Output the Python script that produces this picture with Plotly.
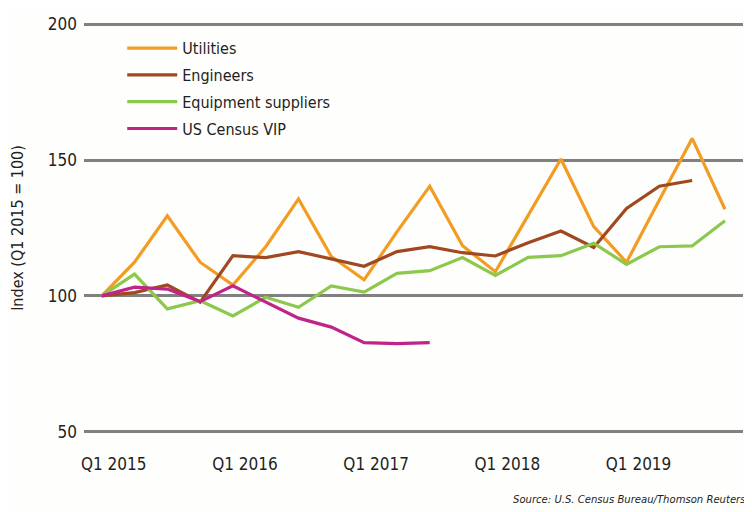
import plotly.graph_objects as go

quarters = [
    "Q1 2015", "Q2 2015", "Q3 2015", "Q4 2015",
    "Q1 2016", "Q2 2016", "Q3 2016", "Q4 2016",
    "Q1 2017", "Q2 2017", "Q3 2017", "Q4 2017",
    "Q1 2018", "Q2 2018", "Q3 2018", "Q4 2018",
    "Q1 2019", "Q2 2019", "Q3 2019", "Q4 2019",
]
tick_quarters = ["Q1 2015", "Q1 2016", "Q1 2017", "Q1 2018", "Q1 2019"]

utilities = [100, 112.4, 129.5, 112.4, 104, 118.1, 135.7, 114.5, 105.9, 123.6,
             140.4, 118.5, 108.9, 129.8, 150.4, 125.5, 112.4, 135.3, 158.0, 131.9]
engineers = [100, 101.2, 104, 97.7, 114.8, 114.1, 116.3, 113.6, 110.9, 116.3,
             118.1, 115.9, 114.7, 119.6, 123.9, 117.8, 132.2, 140.4, 142.5]
equipment = [100, 108, 95.2, 98.2, 92.6, 99.5, 95.8, 103.7, 101.4, 108.3,
             109.3, 114.1, 107.5, 114.2, 114.8, 119.4, 111.6, 118.1, 118.4, 127.7]
census_vip = [100, 103.2, 102.5, 97.9, 103.7, 97.9, 91.8, 88.5, 82.8, 82.4, 82.8]

series = [
    ("Utilities", utilities, "#F39C22"),
    ("Engineers", engineers, "#A0481F"),
    ("Equipment suppliers", equipment, "#8CC84B"),
    ("US Census VIP", census_vip, "#C0248A"),
]

FONT = "Liberation Sans Narrow, DejaVu Sans Condensed, sans-serif"
TEXT = "#231F20"

fig = go.Figure()
for name, vals, color in series:
    fig.add_trace(go.Scatter(
        x=quarters[:len(vals)], y=vals, name=name, mode="lines",
        legendgroup=name,
        line=dict(color=color, width=3.2),
    ))

# page body has an 8px margin, so the figure is drawn 8px smaller
fig.update_layout(
    width=744, height=504,
    margin=dict(l=76, r=9, t=15, b=79),
    paper_bgcolor="#FEFEFD", plot_bgcolor="#FEFEFD",
    font=dict(family=FONT, size=17, color=TEXT),
    showlegend=True,
    legend=dict(
        x=0.058, y=0.98, xanchor="left", yanchor="top",
        font=dict(size=16), bgcolor="rgba(0,0,0,0)",
        tracegroupgap=3, itemwidth=50,
    ),
    annotations=[dict(
        text="<i>Source: U.S. Census Bureau/Thomson Reuters</i>",
        xref="paper", yref="paper", x=1.0076, y=-0.161,
        xanchor="right", yanchor="middle", showarrow=False,
        font=dict(size=11.2, color=TEXT),
    )],
)
fig.update_xaxes(
    type="category", categoryorder="array", categoryarray=quarters,
    range=[-0.54, 19.55], showgrid=False, zeroline=False, showline=False,
    tickvals=tick_quarters, ticktext=tick_quarters, ticks="",
    ticklabelshift=12, ticklabelstandoff=19, tickfont=dict(size=17),
    automargin=False,
)
fig.update_yaxes(
    range=[49.5, 200.5], tickvals=[50, 100, 150, 200],
    showgrid=True, gridcolor="#808080", gridwidth=3,
    zeroline=False, showline=False, ticks="",
    tickfont=dict(size=17), ticklabelstandoff=6, automargin=False,
    title=dict(text="Index (Q1 2015 = 100)", font=dict(size=16), standoff=20),
)

fig.write_html("out.html")
